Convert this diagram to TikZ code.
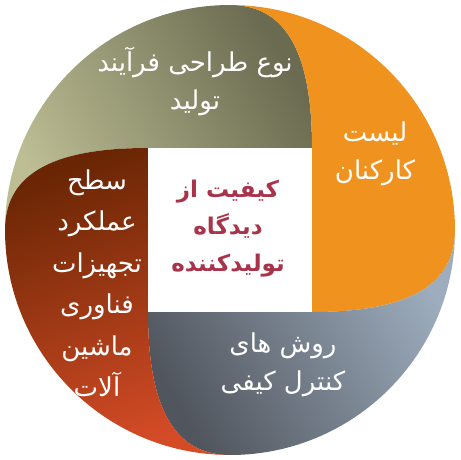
\documentclass[tikz,border=0pt]{standalone}
\usepackage{fontspec}
\newfontfamily\arabicfont[Script=Arabic]{DejaVu Sans}
\TeXXeTstate=1
\definecolor{olivelight}{HTML}{BDBE94}
\definecolor{olivedark}{HTML}{6A6B50}
\definecolor{orangefill}{HTML}{F0921E}
\definecolor{greylight}{HTML}{9DADBE}
\definecolor{greydark}{HTML}{51565E}
\definecolor{redtop}{HTML}{6A2604}
\definecolor{redbottom}{HTML}{D44B26}
\definecolor{centertext}{HTML}{A8334A}
\tikzset{
  label text/.style={text=white, align=center, font=\arabicfont\fontsize{26}{38}\selectfont},
  center label/.style={text=centertext, align=center, font=\arabicfont\bfseries\fontsize{23}{37}\selectfont},
}
\begin{document}
\begin{tikzpicture}[x=1pt,y=-1pt]
\useasboundingbox (0,0) rectangle (461,460);
% olive (top-left)
\shade[left color=olivelight, right color=olivedark, shading angle=120]
  (148,148) -- (312,148) .. controls (312,60) and (290,5) .. (230,5)
  arc[start angle=-90, end angle=-180, radius=225]
  .. controls (5,170) and (60,148) .. (148,148) -- cycle;
% orange (top-right)
\fill[orangefill]
  (312,312) -- (312,148) .. controls (312,60) and (290,5) .. (230,5)
  arc[start angle=-90, end angle=0, radius=225]
  .. controls (455,290) and (400,312) .. (312,312) -- cycle;
% grey (bottom-right)
\shade[left color=greydark, right color=greylight, shading angle=120]
  (148,312) -- (312,312) .. controls (400,312) and (455,290) .. (455,230)
  arc[start angle=0, end angle=90, radius=225]
  .. controls (170,455) and (148,400) .. (148,312) -- cycle;
% red (bottom-left)
\shade[top color=redtop, bottom color=redbottom, shading angle=20]
  (148,148) -- (148,312) .. controls (148,400) and (170,455) .. (230,455)
  arc[start angle=90, end angle=180, radius=225]
  .. controls (5,170) and (60,148) .. (148,148) -- cycle;
% centre square
\fill[white] (148,148) rectangle (312,312);
\node[label text] (olive) at (195,81) {\beginR نوع طراحی فرآیند\endR\\\beginR تولید\endR};
\node[label text] (orange) at (375,154) {\beginR لیست\endR\\\beginR کارکنان\endR};
\node[label text] (grey) at (283,365) {\beginR روش های\endR\\\beginR کنترل کیفی\endR};
\node[label text, font=\arabicfont\fontsize{26}{41.5}\selectfont] (red) at (97,283) {\beginR سطح\endR\\\beginR عملکرد\endR\\\beginR تجهیزات\endR\\\beginR فناوری\endR\\\beginR ماشین\endR\\\beginR آلات\endR};
\node[center label] (centre) at (228,229) {\beginR کیفیت از\endR\\\beginR دیدگاه\endR\\\beginR تولیدکننده\endR};
\end{tikzpicture}
\end{document}
